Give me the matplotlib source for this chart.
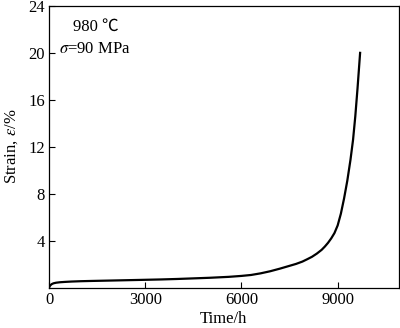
import matplotlib
matplotlib.use('Agg')
import matplotlib.pyplot as plt

# creep curve (time in h, strain in %)
time_h = [0, 20, 50, 90, 140, 220, 340, 500, 700, 1000, 1300, 2000, 2850, 3500,
          4000, 5000, 5600, 6000, 6300, 6600, 6900, 7200, 7500, 7700, 7900,
          8050, 8200, 8350, 8500, 8600, 8700, 8800, 8900, 9000, 9100, 9200,
          9300, 9400, 9480, 9550, 9620, 9700]
strain = [0, 0.12, 0.22, 0.31, 0.37, 0.42, 0.46, 0.49, 0.52, 0.55, 0.57, 0.61,
          0.66, 0.70, 0.74, 0.84, 0.92, 1.0, 1.08, 1.22, 1.40, 1.62, 1.86, 2.02,
          2.22, 2.42, 2.63, 2.90, 3.22, 3.50, 3.82, 4.20, 4.65, 5.3, 6.3, 7.6,
          9.1, 10.9, 12.6, 14.6, 17.0, 20.0]

xticks = [0, 3000, 6000, 9000]
yticks = [4, 8, 12, 16, 20, 24]

plt.rcParams['font.family'] = ['Liberation Serif', 'Noto Sans CJK SC']
plt.rcParams['mathtext.fontset'] = 'stix'
plt.rcParams['font.size'] = 12

fig = plt.figure(figsize=(4.0, 3.28), dpi=100)
ax = fig.add_axes([0.1225, 0.123, 0.874, 0.859])
ax.plot(time_h, strain, color='black', linewidth=1.6)

ax.set_xlim(0, 10900)
ax.set_ylim(0, 24)
ax.set_xticks(xticks)
ax.set_yticks(yticks)
ax.tick_params(direction='in', length=4, width=0.8, labelsize=12, pad=3)
for sp in ax.spines.values():
    sp.set_linewidth(0.9)

ax.set_xlabel('Time/h', fontsize=12, labelpad=2)
ax.set_ylabel('Strain, $\\it{\\varepsilon}$/%', fontsize=12, labelpad=6)

ax.text(0.07, 0.925, '980 \u2103', transform=ax.transAxes, fontsize=12,
        ha='left', va='center')
ax.text(0.03, 0.848, '$\\it{\\sigma}$=90 MPa', transform=ax.transAxes,
        fontsize=12, ha='left', va='center')

plt.savefig('out.png', dpi=100)
plt.close()
